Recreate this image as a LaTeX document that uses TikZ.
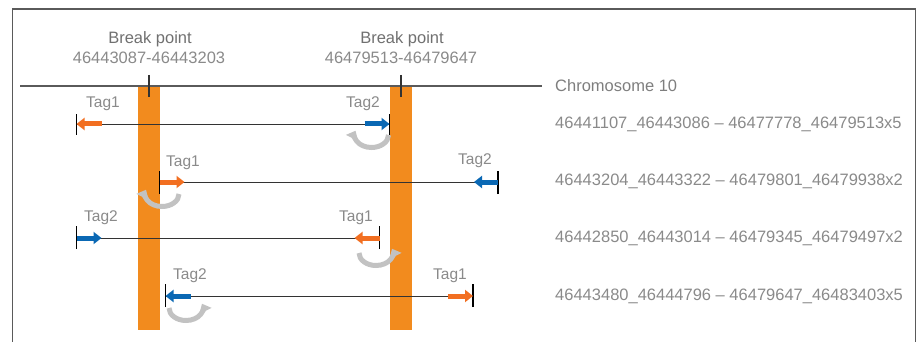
\documentclass[tikz,border=0pt]{standalone}
\usepackage{fontspec}
\setmainfont{Liberation Sans}
\usetikzlibrary{arrows.meta}
\definecolor{barorange}{HTML}{F28B1E}
\definecolor{tagorange}{HTML}{F26F21}
\definecolor{tagblue}{HTML}{0A68B4}
\definecolor{turngray}{HTML}{C2C2C2}
\definecolor{txtgray}{HTML}{8A8A8A}
\definecolor{headgray}{HTML}{707070}
\definecolor{framegray}{HTML}{5A5A5A}
\begin{document}
\begin{tikzpicture}[x=1pt,y=-1pt,
  txt/.style={inner sep=0pt, text=txtgray, font=\fontsize{16.5}{19}\selectfont},
  headtxt/.style={txt, text=headgray},
  taglbl/.style={txt, font=\fontsize{15.5}{18}\selectfont},
  rowlbl/.style={txt, anchor=west},
  bar/.style={fill=barorange, draw=none},
  readline/.style={draw=black!80, line width=0.9pt},
  endtick/.style={draw=black, line width=1.1pt},
  tagarrow/.style={line width=5pt, -{Triangle[length=8pt,width=12pt]}},
  turnarrow/.style={draw=turngray, line width=5pt, -{Triangle[length=8pt,width=13pt]}}
]
\useasboundingbox (0,0) rectangle (921,342);

% outer frame, open at the bottom
\draw[framegray, line width=1.4pt] (12.5,342) -- (12.5,9) -- (915.5,9) -- (915.5,342);

% breakpoint bars
\fill[bar] (138,86) rectangle (160,330);
\fill[bar] (390,86) rectangle (412,330);

% chromosome
\coordinate (chrA) at (20,86);
\coordinate (chrB) at (542,86);
\draw[framegray, line width=1.2pt] (chrA) -- (chrB);
\node[rowlbl, text=headgray!90] (chr) at (555,86) {Chromosome 10};

% breakpoint markers and labels
\coordinate (bp1t) at (149,75); \coordinate (bp1b) at (149,97);
\coordinate (bp2t) at (401,75); \coordinate (bp2b) at (401,97);
\draw[endtick, draw=black!80] (bp1t) -- (bp1b);
\draw[endtick, draw=black!80] (bp2t) -- (bp2b);
\node[headtxt] (bp1) at (150,39) {Break point};
\node[txt] (bp1r) at (149,58) {46443087-46443203};
\node[headtxt] (bp2) at (402,39) {Break point};
\node[txt] (bp2r) at (401,58) {46479513-46479647};

% ---- read pair 1
\coordinate (a1) at (76.5,124); \coordinate (b1) at (389.5,124);
\draw[readline] (a1) -- (b1);
\draw[endtick] ([yshift=-11]a1) -- ([yshift=10]a1);
\draw[endtick] ([yshift=-11]b1) -- ([yshift=10]b1);
\draw[tagarrow, tagorange] ([xshift=25]a1) -- (a1);
\draw[tagarrow, tagblue] ([xshift=-25]b1) -- (b1);
\node[taglbl] (t11) at (103,104) {Tag1};
\node[taglbl] (t12) at (363,104) {Tag2};
\draw[turnarrow] (388.5,135) arc[start angle=0, end angle=200, x radius=17, y radius=12.5];
\node[rowlbl] (l1) at (555,124) {46441107\_46443086 – 46477778\_46479513x5};

% ---- read pair 2
\coordinate (a2) at (159.5,182); \coordinate (b2) at (498,182);
\draw[readline] (a2) -- (b2);
\draw[endtick] ([yshift=-12]a2) -- ([yshift=11]a2);
\draw[endtick] ([yshift=-12]b2) -- ([yshift=11]b2);
\draw[tagarrow, tagorange] (a2) -- ([xshift=25]a2);
\draw[tagarrow, tagblue] (b2) -- ([xshift=-24]b2);
\node[taglbl] (t21) at (183,163) {Tag1};
\node[taglbl] (t22) at (475,161) {Tag2};
\draw[turnarrow] (179,194) arc[start angle=0, end angle=200, x radius=17, y radius=12.5];
\node[rowlbl] (l2) at (555,181) {46443204\_46443322 – 46479801\_46479938x2};

% ---- read pair 3
\coordinate (a3) at (76.5,238); \coordinate (b3) at (379.5,238);
\draw[readline] (a3) -- (b3);
\draw[endtick] ([yshift=-11]a3) -- ([yshift=12]a3);
\draw[endtick] ([yshift=-11]b3) -- ([yshift=12]b3);
\draw[tagarrow, tagblue] (a3) -- ([xshift=25]a3);
\draw[tagarrow, tagorange] (b3) -- ([xshift=-25]b3);
\node[taglbl] (t32) at (101,218) {Tag2};
\node[taglbl] (t31) at (356,218) {Tag1};
\draw[turnarrow] (359,253) arc[start angle=180, end angle=-20, x radius=17, y radius=12.5];
\node[rowlbl] (l3) at (555,238) {46442850\_46443014 – 46479345\_46479497x2};

% ---- read pair 4
\coordinate (a4) at (165.5,296); \coordinate (b4) at (473,296);
\draw[readline] (a4) -- (b4);
\draw[endtick] ([yshift=-11]a4) -- ([yshift=12]a4);
\draw[endtick] ([yshift=-11]b4) -- ([yshift=12]b4);
\draw[tagarrow, tagblue] ([xshift=25]a4) -- (a4);
\draw[tagarrow, tagorange] ([xshift=-25]b4) -- (b4);
\node[taglbl] (t42) at (190,276) {Tag2};
\node[taglbl] (t41) at (450,276) {Tag1};
\draw[turnarrow] (169,308) arc[start angle=180, end angle=-20, x radius=17, y radius=12.5];
\node[rowlbl] (l4) at (555,296) {46443480\_46444796 – 46479647\_46483403x5};
\end{tikzpicture}
\end{document}
